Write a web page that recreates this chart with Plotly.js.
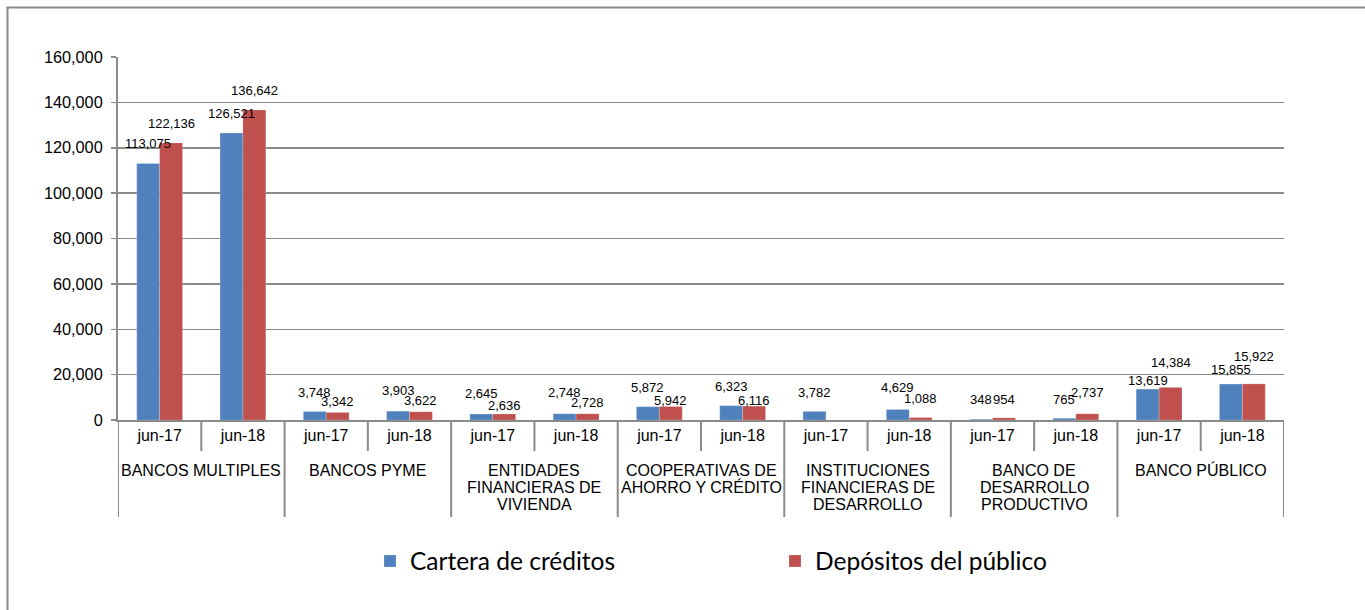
<!DOCTYPE html>
<html>
<head>
<meta charset="utf-8">
<script src="https://cdn.plot.ly/plotly-3.0.1.min.js"></script>
<style>html,body{margin:0;padding:0;background:#fff;}#chart{width:1365px;height:610px;}</style>
</head>
<body>
<div id="chart"></div>
<script>
// ---- data ----
var groupLines = [
  ['BANCOS MULTIPLES'],
  ['BANCOS PYME'],
  ['ENTIDADES', 'FINANCIERAS DE', 'VIVIENDA'],
  ['COOPERATIVAS DE', 'AHORRO Y CRÉDITO'],
  ['INSTITUCIONES', 'FINANCIERAS DE', 'DESARROLLO'],
  ['BANCO DE', 'DESARROLLO', 'PRODUCTIVO'],
  ['BANCO PÚBLICO']
];
var periods = ['jun-17', 'jun-18'];
var seriesNames = ['Cartera de créditos', 'Depósitos del público'];
var cartera   = [113075, 126521, 3748, 3903, 2645, 2748, 5872, 6323, 3782, 4629, 348, 765, 13619, 15855];
var depositos = [122136, 136642, 3342, 3622, 2636, 2728, 5942, 6116, 0, 1088, 954, 2737, 14384, 15922];
var yTicks = [0, 20000, 40000, 60000, 80000, 100000, 120000, 140000, 160000];

// ---- label placement (style, px lift above bar top) ----
var liftCartera   = [15, 15, 15, 16, 16, 17, 15, 15, 14, 18, 15, 14, 4, 10];
var liftDepositos = [15, 15, 6, 7, 4, 7, 2, 1, 0, 15, 14, 17, 20, 23];

// ---- style ----
var BLUE = '#4F81BD', RED = '#C0504D', GRID = '#8a8a8a';
var FONT = 'Liberation Sans, Arial, sans-serif';
var L = 118, R = 1284, T = 57, B = 420, W = 1365, H = 610;
var pw = R - L, ph = B - T;

var xIdx = [];
var xText = [];
groupLines.forEach(function (g, gi) {
  periods.forEach(function (p, pi) { xIdx.push(gi * periods.length + pi); xText.push(p); });
});

var barGap = 0.45;
var halfBar = (1 - barGap) / 4; // centre offset of each bar in a pair

var traces = [
  { type: 'bar', name: seriesNames[0], x: xIdx, y: cartera, marker: { color: BLUE, line: { color: 'rgba(255,255,255,0.35)', width: 0.6 } }, hoverinfo: 'skip' },
  { type: 'bar', name: seriesNames[1], x: xIdx, y: depositos, marker: { color: RED, line: { color: 'rgba(255,255,255,0.35)', width: 0.6 } }, hoverinfo: 'skip' }
];

var annotations = [];
var fmt = function (v) { return v.toLocaleString('en-US'); };
function addLabels(vals, lifts, off) {
  vals.forEach(function (v, i) {
    if (!v) return;
    annotations.push({
      x: xIdx[i] + off, y: v, xref: 'x', yref: 'y',
      text: fmt(v), showarrow: false, xanchor: 'center', yanchor: 'bottom',
      yshift: lifts[i] - 4, borderpad: 0,
      font: { family: FONT, size: 13, color: '#000' }
    });
  });
}
addLabels(cartera, liftCartera, -halfBar);
addLabels(depositos, liftDepositos, halfBar);

// group labels, one annotation per line
groupLines.forEach(function (lines, gi) {
  var cx = gi * periods.length + (periods.length - 1) / 2;
  lines.forEach(function (ln, li) {
    annotations.push({
      x: cx, y: 0, xref: 'x', yref: 'paper', text: ln, showarrow: false,
      xanchor: 'center', yanchor: 'middle', yshift: -(50 + li * 17.3),
      font: { family: FONT, size: 16, color: '#000' }
    });
  });
});

var shapes = [];
var nCols = xIdx.length;
for (var b = 0; b <= nCols; b++) {
  var isGroup = (b % periods.length === 0);
  shapes.push({
    type: 'line', xref: 'x', yref: 'paper', ysizemode: 'pixel', yanchor: 0,
    x0: b - 0.5, x1: b - 0.5, y0: 0, y1: isGroup ? -97 : -31,
    line: { color: GRID, width: 2 }
  });
}
// outer chart frame (left and top edges)
function px2x(px) { return (px - L) / pw; }
function px2y(py) { return (B - py) / ph; }
shapes.push({ type: 'line', xref: 'paper', yref: 'paper', x0: px2x(7.5), x1: px2x(7.5), y0: px2y(7.5), y1: px2y(620), line: { color: GRID, width: 2 } });
shapes.push({ type: 'line', xref: 'paper', yref: 'paper', x0: px2x(6.5), x1: px2x(1375), y0: px2y(7.5), y1: px2y(7.5), line: { color: GRID, width: 2 } });

var layout = {
  width: W, height: H,
  margin: { l: L, r: W - R, t: T, b: H - B, pad: 0 },
  paper_bgcolor: '#fff', plot_bgcolor: '#fff',
  barmode: 'group', bargap: barGap, bargroupgap: 0,
  font: { family: FONT, color: '#000' },
  showlegend: true,
  legend: {
    orientation: 'h', xref: 'container', yref: 'container',
    x: 370 / W, y: 1 - 561 / H, xanchor: 'left', yanchor: 'middle',
    entrywidth: 360, entrywidthmode: 'pixels', itemclick: false,
    font: { family: 'Lato, sans-serif', size: 24.5, color: '#000' },
    bgcolor: 'rgba(0,0,0,0)'
  },
  xaxis: {
    type: 'linear', range: [-0.5, nCols - 0.5], fixedrange: true,
    tickmode: 'array', tickvals: xIdx, ticktext: xText, ticks: '',
    showgrid: false, zeroline: false, showline: true, linecolor: GRID, linewidth: 2,
    tickfont: { family: FONT, size: 16, color: '#000' }
  },
  yaxis: {
    range: [0, 160000], tickmode: 'array', tickvals: yTicks, tickformat: ',d', fixedrange: true,
    showgrid: true, gridcolor: GRID, gridwidth: 1.5, zeroline: false,
    showline: true, linecolor: GRID, linewidth: 2,
    ticks: 'outside', ticklen: 5, tickcolor: GRID, tickwidth: 1.5, ticklabelstandoff: 5,
    tickfont: { family: FONT, size: 16.3, color: '#000' }
  },
  annotations: annotations,
  shapes: shapes
};

Plotly.newPlot('chart', traces, layout, { displayModeBar: false, staticPlot: true });
</script>
</body>
</html>
